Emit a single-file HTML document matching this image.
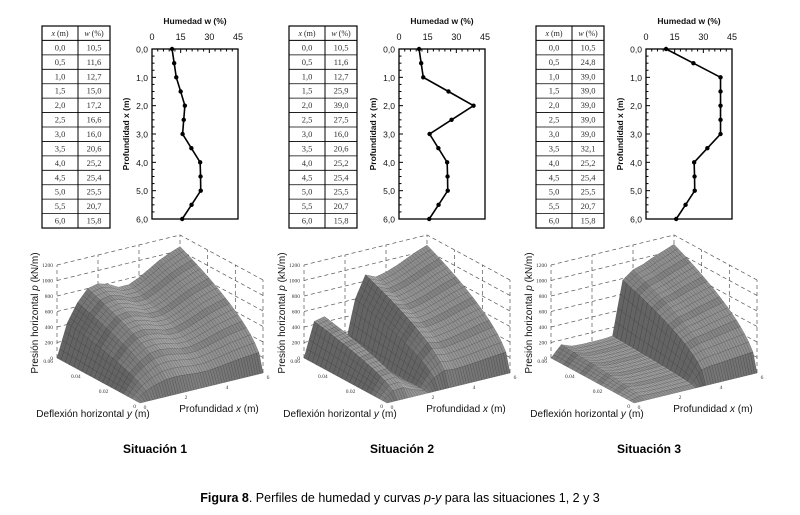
<!DOCTYPE html>
<html><head><meta charset="utf-8">
<style>
body{margin:0;background:#fff;}
#root{position:relative;width:800px;height:515px;overflow:hidden;background:#fff;font-family:"Liberation Sans",sans-serif;}
svg{position:absolute;left:0;top:0;}
</style></head>
<body>
<div id="root">
<svg id="svg" width="800" height="515" viewBox="0 0 800 515"></svg>
</div>
<script>
const depths = [0,0.5,1,1.5,2,2.5,3,3.5,4,4.5,5,5.5,6];
const depthLabels = ["0,0","0,5","1,0","1,5","2,0","2,5","3,0","3,5","4,0","4,5","5,0","5,5","6,0"];
const moisture1 = [10.5,11.6,12.7,15.0,17.2,16.6,16.0,20.6,25.2,25.4,25.5,20.7,15.8];
const moisture2 = [10.5,11.6,12.7,25.9,39.0,27.5,16.0,20.6,25.2,25.4,25.5,20.7,15.8];
const moisture3 = [10.5,24.8,39.0,39.0,39.0,39.0,39.0,32.1,25.2,25.4,25.5,20.7,15.8];
const wTicks = [0,15,30,45];
const pTicks = [0,200,400,600,800,1000,1200];
const yTicks = [0.06,0.04,0.02,0];
const xTicks = [0,2,4,6];
const ultimate1 = [0,420,650,800,830,790,720,720,780,860,940,1000,1050];
const ultimate2 = [0,440,470,200,20,600,880,820,850,900,960,1020,1070];
const ultimate3 = [0,140,90,80,80,80,90,780,880,920,980,1030,1080];
const moistureSets = [moisture1,moisture2,moisture3];
const ultimateSets = [ultimate1,ultimate2,ultimate3];
const titles = ["Situación 1","Situación 2","Situación 3"];

const NS="http://www.w3.org/2000/svg";
const svg=document.getElementById('svg');
function mk(tag,attrs,parent){const e=document.createElementNS(NS,tag);for(const k in attrs)e.setAttribute(k,attrs[k]);(parent||svg).appendChild(e);return e;}
function txt(s,attrs,parent){const e=mk('text',attrs,parent);e.textContent=s;return e;}

for(let k=0;k<3;k++){
  const ox=247*k;
  const g=mk('g',{});
  
  
  const tb=mk('g',{},g);
  
  
  const tx=42+ox, tw=68, tmid=78+ox, ty=26, rh=14.43;
  mk('rect',{x:tx,y:ty,width:tw,height:rh*14,fill:'none',stroke:'#000','stroke-width':1.2},tb);
  mk('line',{x1:tmid,y1:ty,x2:tmid,y2:ty+rh*14,stroke:'#000','stroke-width':1},tb);
  for(let r=1;r<14;r++){
    mk('line',{x1:tx,y1:ty+r*rh,x2:tx+tw,y2:ty+r*rh,stroke:'#000','stroke-width':r==1?1:0.8},tb);
  }
  const h1=txt('',{x:(tx+tmid)/2,y:ty+10,'text-anchor':'middle','font-family':'Liberation Serif, serif','font-size':8,fill:'#222'},tb);
  h1.innerHTML='<tspan font-style="italic">x</tspan> (m)';
  const h2=txt('',{x:(tmid+tx+tw)/2,y:ty+10,'text-anchor':'middle','font-family':'Liberation Serif, serif','font-size':8,fill:'#222'},tb);
  h2.innerHTML='<tspan font-style="italic">w</tspan> (%)';
  const mset=moistureSets[k];
  for(let r=0;r<13;r++){
    txt(depthLabels[r],{x:(tx+tmid)/2,y:ty+(r+1)*rh+10,'text-anchor':'middle','font-family':'Liberation Serif, serif','font-size':8.5,fill:'#333'},tb);
    txt(mset[r].toFixed(1).replace('.',','),{x:(tmid+tx+tw)/2,y:ty+(r+1)*rh+10,'text-anchor':'middle','font-family':'Liberation Serif, serif','font-size':8.5,fill:'#333'},tb);
  }
  const pc=mk('g',{},g);
  
  
  const L=152+ox,R=238+ox,T=49,B=219;
  const sx=w=>L+(w/45)*(R-L), sy=d=>T+(d/6)*(B-T);
  mk('rect',{x:L,y:T,width:R-L,height:B-T,fill:'none',stroke:'#000','stroke-width':1.3},pc);
  for(let w=0;w<=45;w+=3){mk('line',{x1:sx(w),y1:T,x2:sx(w),y2:T+(w%15==0?4:2.5),stroke:'#000','stroke-width':1},pc);}
  for(let d=0;d<=6.001;d+=0.25){mk('line',{x1:L,y1:sy(d),x2:L+(Math.abs(d-Math.round(d))<0.01?4:2.5),y2:sy(d),stroke:'#000','stroke-width':1},pc);}
  wTicks.forEach(w=>txt(String(w),{x:sx(w),y:40,'text-anchor':'middle','font-size':9,fill:'#111'},pc));
  for(let d=0;d<=6;d++) txt(d+',0',{x:L-4,y:sy(d)+3.5,'text-anchor':'end','font-size':8.5,fill:'#111'},pc);
  txt('Humedad w (%)',{x:(L+R)/2,y:24,'text-anchor':'middle','font-size':8.5,'font-weight':'bold',fill:'#111'},pc);
  txt('Profundidad x (m)',{x:0,y:0,'text-anchor':'middle','font-size':8.5,'font-weight':'bold',fill:'#111',transform:`translate(${129+ox},${(T+B)/2}) rotate(-90)`},pc);
  let pts=depths.map((d,i)=>sx(mset[i])+','+sy(d)).join(' ');
  const ln=mk('polyline',{points:pts,fill:'none',stroke:'#000','stroke-width':1.6},pc);
  
  
  depths.forEach((d,i)=>{
    const c=mk('circle',{cx:sx(mset[i]),cy:sy(d),r:2.2,fill:'#000'},pc);
    
    
  });
  const sf=mk('g',{},g);
  
  
  const O=[140+ox,403];
  const P=(x,y,p)=>[O[0]+x/6*123+(y/0.06)*(-83), O[1]+x/6*(-30)+(y/0.06)*(-45)-p/1200*93];
  const ps=(a)=>a[0].toFixed(1)+','+a[1].toFixed(1);
  const dash={stroke:'#555','stroke-width':0.7,'stroke-dasharray':'4,3',fill:'none'};
  pTicks.forEach(p=>{
    const a=P(0,0.06,p),b=P(6,0.06,p),c=P(6,0,p);
    mk('polyline',Object.assign({points:ps(a)+' '+ps(b)+' '+ps(c)},dash),sf);
  });
  [0,2,4,6].forEach(x=>{const a=P(x,0.06,0),b=P(x,0.06,1200);mk('line',Object.assign({x1:a[0],y1:a[1],x2:b[0],y2:b[1]},dash),sf);});
  [0,0.02,0.04].forEach(y=>{const a=P(6,y,0),b=P(6,y,1200);mk('line',Object.assign({x1:a[0],y1:a[1],x2:b[0],y2:b[1]},dash),sf);});
  const pu=ultimateSets[k];
  const nx=48, ny=20, quads=[];
  const puAt=x=>{const i=Math.min(11,Math.floor(x/0.5));const t=(x-depths[i])/0.5;return pu[i]+(pu[i+1]-pu[i])*t;};
  const pv=(x,y)=>puAt(x)*Math.pow(y/0.06,0.5);
  for(let i=0;i<nx;i++)for(let j=0;j<ny;j++){
    const x0=6*i/nx,x1=6*(i+1)/nx,y0=0.06*j/ny,y1=0.06*(j+1)/ny;
    const a=P(x0,y0,pv(x0,y0)),b=P(x1,y0,pv(x1,y0)),c=P(x1,y1,pv(x1,y1)),d=P(x0,y1,pv(x0,y1));
    const dpx=(pv(x1,(y0+y1)/2)-pv(x0,(y0+y1)/2))/1200*93/((x1-x0)/6*123);
    const dpy=(pv((x0+x1)/2,y1)-pv((x0+x1)/2,y0))/1200*93/((y1-y0)/0.06*90);
    let br=160-dpx*35-dpy*8+(j%4==0?-12:0);
    br=Math.max(100,Math.min(200,br));
    quads.push({depth:x0/6+y0/0.06,pts:[a,b,c,d],br});
  }
  quads.sort((q1,q2)=>q2.depth-q1.depth);
  quads.forEach(q=>{
    const col=`rgb(${q.br|0},${q.br|0},${q.br|0})`;
    const sc=(q.br*0.55)|0;
    mk('polygon',{points:q.pts.map(ps).join(' '),fill:col,stroke:`rgb(${sc},${sc},${sc})`,'stroke-width':0.3},sf);
  });
  pTicks.forEach(p=>{const a=P(0,0.06,p);txt(String(p),{x:a[0]-4,y:a[1]+2,'text-anchor':'end','font-family':'Liberation Serif, serif','font-size':5.5,fill:'#333'},sf);});
  yTicks.forEach(y=>{const a=P(0,y,0);txt(String(y),{x:a[0]-4,y:a[1]+5,'text-anchor':'end','font-family':'Liberation Serif, serif','font-size':5.5,fill:'#333'},sf);});
  xTicks.forEach(x=>{const a=P(x,0,0);txt(String(x),{x:a[0]+5,y:a[1]+6,'text-anchor':'middle','font-family':'Liberation Serif, serif','font-size':5.5,fill:'#333'},sf);});
  txt('',{x:0,y:0,'text-anchor':'middle','font-size':10,fill:'#111',transform:`translate(${38+ox},313) rotate(-90)`},sf).innerHTML='Presión horizontal <tspan font-style="italic">p</tspan> (kN/m)';
  txt('',{x:93+ox,y:417,'text-anchor':'middle','font-size':10,fill:'#111'},sf).innerHTML='Deflexión horizontal <tspan font-style="italic">y</tspan> (m)';
  txt('',{x:219+ox,y:412,'text-anchor':'middle','font-size':10,fill:'#111'},sf).innerHTML='Profundidad <tspan font-style="italic">x</tspan> (m)';
  const st=txt(titles[k],{x:155+ox,y:453,'text-anchor':'middle','font-size':12,'font-weight':'bold',fill:'#000'},g);
  
  
}
const cap=txt('',{x:400,y:502,'text-anchor':'middle','font-size':12.5,fill:'#000'});
cap.innerHTML='<tspan font-weight="bold">Figura 8</tspan>. Perfiles de humedad y curvas <tspan font-style="italic">p-y</tspan> para las situaciones 1, 2 y 3';


</script>
</body></html>
